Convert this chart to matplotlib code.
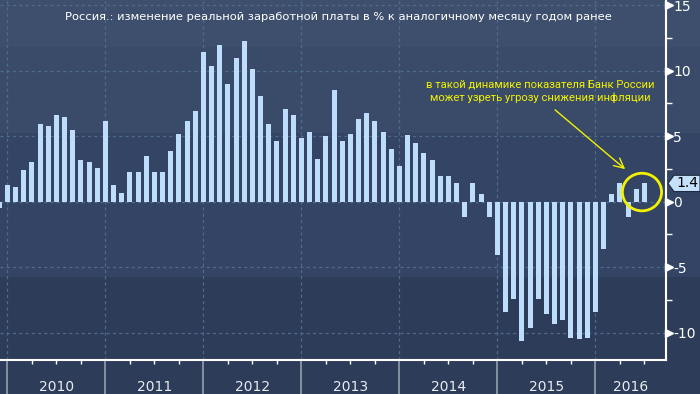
import numpy as np
import matplotlib
matplotlib.use("Agg")
import matplotlib.pyplot as plt
from matplotlib import transforms
from matplotlib.patches import Ellipse, Polygon

plt.rcParams['font.family'] = ['DejaVu Sans']
plt.rcParams['axes.unicode_minus'] = False

# ---- data (monthly, Dec 2009 .. Jun 2016) ----
values = [-0.5,
          1.3, 1.1, 2.4, 3.0, 5.9, 5.8, 6.6, 6.5, 5.5, 3.2, 3.0, 2.6,
          6.2, 1.3, 0.7, 2.3, 2.3, 3.5, 2.3, 2.3, 3.9, 5.2, 6.2, 6.9,
          11.4, 10.4, 12.0, 9.0, 11.0, 12.3, 10.1, 8.1, 5.9, 4.6, 7.1, 6.6,
          4.9, 5.3, 3.3, 5.0, 8.5, 4.6, 5.2, 6.3, 6.8, 6.2, 5.3, 4.0,
          2.7, 5.1, 4.5, 3.7, 3.2, 2.0, 2.0, 1.4, -1.2, 1.4, 0.6, -1.2,
          -4.1, -8.4, -7.4, -10.6, -9.6, -7.4, -8.6, -9.3, -9.0, -10.4, -10.5, -10.4,
          -8.4, -3.6, 0.6, 1.4, -1.2, 1.0, 1.4]
years = ['2010', '2011', '2012', '2013', '2014', '2015', '2016']
yticks = [-10, -5, 0, 5, 10, 15]
ytick_labels = ['-10', '-5', '0', '5', '10', '15']
title = "Россия.: изменение реальной заработной платы в % к аналогичному месяцу годом ранее"
note = "в такой динамике показателя Банк России\nможет узреть угрозу снижения инфляции"
last_label = "1.4"

W, H = 700, 394
fig = plt.figure(figsize=(W / 100, H / 100), dpi=100)

# background gradient (banded)
bg = fig.add_axes([0, 0, 1, 1])
bg.set_axis_off()
rows = np.zeros((H, 1, 3))
def hexrgb(h):
    h = h.lstrip('#')
    return [int(h[i:i + 2], 16) / 255 for i in (0, 2, 4)]
bands = [(0, 47, '#3e4f6d'), (47, 133, '#3a4b69'), (133, 277, '#344464'), (277, H, '#2d3c59')]
for a, b, c in bands:
    rows[a:b, 0, :] = hexrgb(c)
bg.imshow(rows, aspect='auto', extent=[0, 1, 0, 1], interpolation='nearest')
bg.set_xlim(0, 1); bg.set_ylim(0, 1)

ax = fig.add_axes([0, (H - 360) / H, 666 / W, 360 / H])
ax.patch.set_alpha(0)

x = np.arange(-1, len(values) - 1)
ax.bar(x, values, width=0.61, color='#bedcfc', zorder=3)

ax.set_xlim(-0.906, 80.64)
ax.set_ylim(-12.08, 15.4)

# grid
grid_kw = dict(color='#4d6b8a', lw=0.9, ls=(0, (2.5, 2.5)), zorder=1)
for yv in yticks:
    ax.axhline(yv, **grid_kw)
for k in range(7):
    ax.axvline(12 * k, **grid_kw)

# spines
for s in ['left', 'top']:
    ax.spines[s].set_visible(False)
for s in ['right', 'bottom']:
    ax.spines[s].set_color('white')
    ax.spines[s].set_linewidth(1.5)

# y axis on right
ax.yaxis.tick_right()
ax.set_yticks(yticks)
ax.set_yticklabels(ytick_labels)
ax.set_yticks([-7.5, -2.5, 2.5, 7.5, 12.5], minor=True)
ax.tick_params(axis='y', which='major', length=0, pad=5, labelsize=10, labelcolor='white')
ax.tick_params(axis='y', which='minor', length=4, width=1, color='white', direction='out')
trans_ym = transforms.blended_transform_factory(ax.transAxes, ax.transData)
ax.plot([1.0045] * len(yticks), yticks, marker='>', ms=5.5, color='white', ls='none',
        transform=trans_ym, clip_on=False, zorder=5)

# x axis: year separators and quarter ticks
ax.set_xticks([12 * k for k in range(7)])
ax.set_xticklabels([])
quarters = [12 * k + q for k in range(7) for q in (3, 6, 9) if 12 * k + q < 80.6]
ax.set_xticks(quarters, minor=True)
ax.tick_params(axis='x', which='major', length=24.5, width=1.3, color='#8d97a8', direction='out')
ax.tick_params(axis='x', which='minor', length=3, width=1, color='white', direction='out')

trans_xa = transforms.blended_transform_factory(ax.transData, ax.transAxes)
xmax = ax.get_xlim()[1]
for k, yr in enumerate(years):
    a = 12 * k
    b = min(12 * (k + 1), xmax)
    ax.text((a + b) / 2, -27 / 360, yr, transform=trans_xa, ha='center', va='center',
            fontsize=10, color='#e8ecf2')

# title
fig.text(338 / W, 1 - 17 / H, title, ha='center', va='center', fontsize=8.25, color='white')

# annotation
yel = '#f2f200'
ax.text(65.3, 8.45, note, ha='center', va='center', fontsize=8.1, color=yel,
        family=['Roboto', 'DejaVu Sans'], linespacing=1.3, zorder=6)
ax.annotate('', xy=(75.9, 2.35), xytext=(66.8, 7.15),
            arrowprops=dict(arrowstyle='->,head_length=0.7,head_width=0.35', color=yel, lw=1),
            zorder=6)
ax.add_patch(Ellipse((77.7, 0.74), 4.8, 2.87, fill=False, ec=yel, lw=2, zorder=6))

# last value label
trans_fd = transforms.blended_transform_factory(fig.transFigure, ax.transData)
v = values[-1]
hh = 0.62
poly = Polygon([(668 / W, v), (674 / W, v + hh), (700 / W, v + hh), (700 / W, v - hh), (674 / W, v - hh)],
               closed=True, fc='#c5e0fb', ec='#1f2b40', lw=0.8, transform=trans_fd, clip_on=False, zorder=7)
ax.add_patch(poly)
ax.text(687 / W, v, last_label, transform=trans_fd, ha='center', va='center', fontsize=10,
        color='black', zorder=8, clip_on=False)

fig.savefig('out.png', dpi=100)
